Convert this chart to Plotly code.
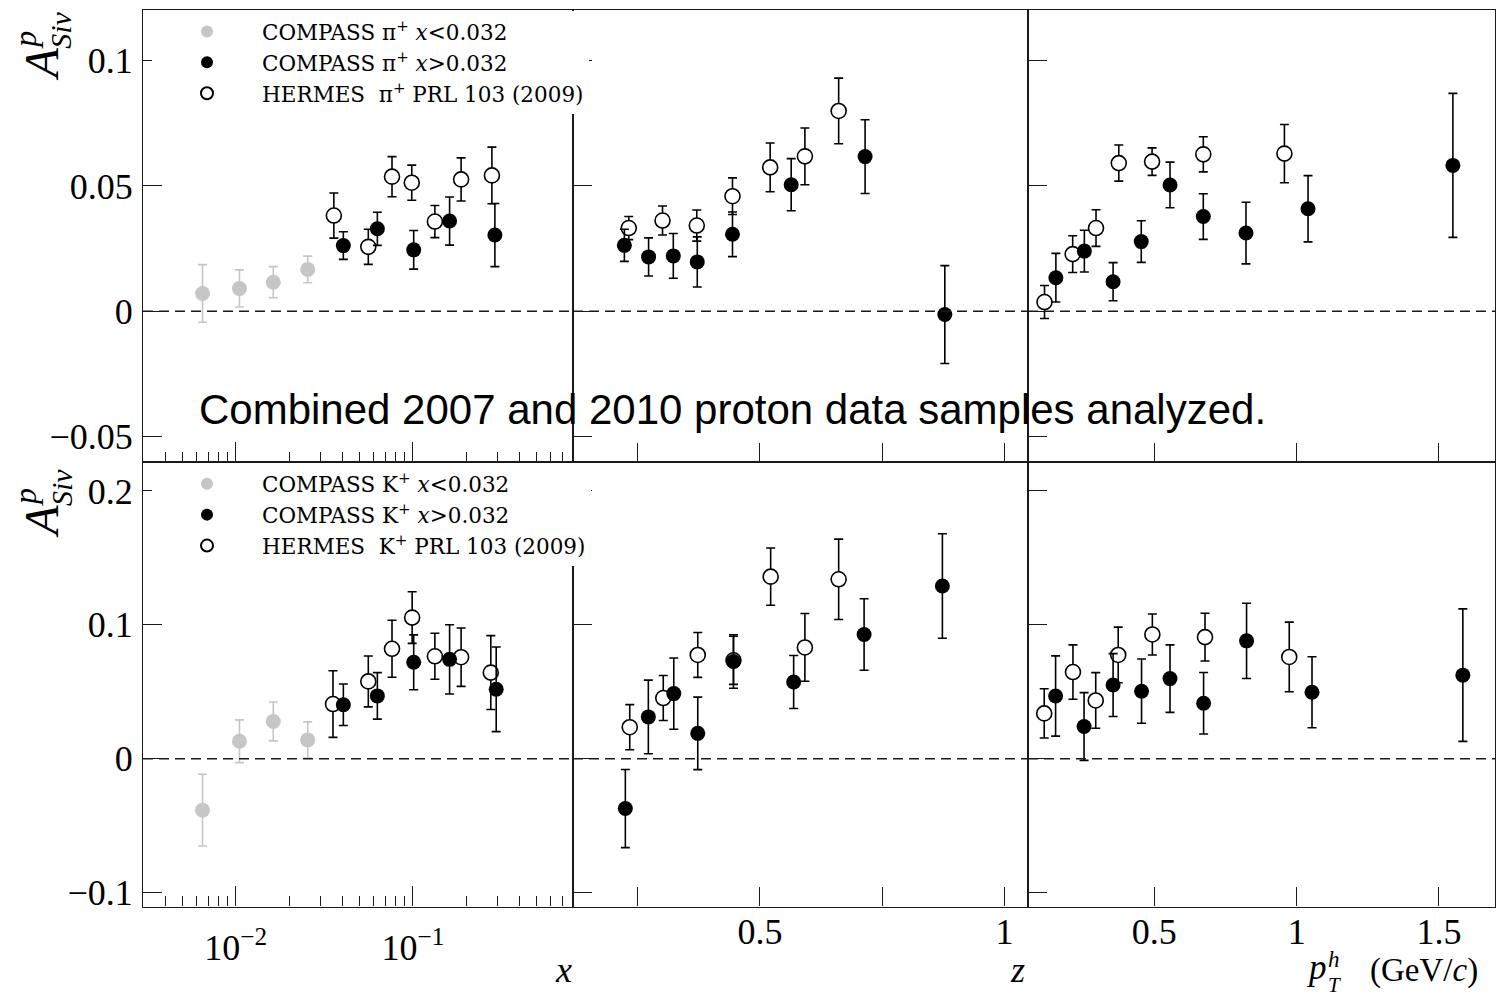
import plotly.graph_objects as go
import numpy as np

W, H = 1503, 1000
def px(x): return x / W
def py(y): return 1 - y / H

SERIF = "Liberation Serif"
SANS = "Liberation Sans"

# ---------------- data: pi+ ----------------
# vs x
pi_x_low_x = [0.0065, 0.0105, 0.0163, 0.0255]
pi_x_low_y = [0.0071, 0.0091, 0.0116, 0.0167]
pi_x_low_e = [0.0115, 0.0074, 0.0062, 0.0053]
pi_x_hi_x = [0.0405, 0.063, 0.101, 0.161, 0.29]
pi_x_hi_y = [0.0262, 0.0329, 0.0245, 0.036, 0.0304]
pi_x_hi_e = [0.0055, 0.0066, 0.0077, 0.0096, 0.0126]
pi_x_her_x = [0.0358, 0.056, 0.0762, 0.0985, 0.133, 0.187, 0.279]
pi_x_her_y = [0.0382, 0.0257, 0.0537, 0.0513, 0.0358, 0.0526, 0.0542]
pi_x_her_e = [0.009, 0.007, 0.008, 0.007, 0.0064, 0.0086, 0.0113]
# vs z
pi_z_hi_x = [0.223, 0.2725, 0.323, 0.372, 0.444, 0.564, 0.715, 0.878]
pi_z_hi_y = [0.0263, 0.0217, 0.0221, 0.0197, 0.0307, 0.0505, 0.0617, -0.0013]
pi_z_hi_e = [0.0064, 0.0076, 0.0089, 0.010, 0.0089, 0.0104, 0.0147, 0.0195]
pi_z_her_x = [0.232, 0.301, 0.371, 0.444, 0.521, 0.592, 0.661]
pi_z_her_y = [0.0332, 0.0362, 0.0342, 0.0459, 0.0574, 0.0618, 0.0799]
pi_z_her_e = [0.0046, 0.0058, 0.0062, 0.0073, 0.0097, 0.0113, 0.0131]
# vs pT
pi_pt_hi_x = [0.154, 0.254, 0.355, 0.454, 0.555, 0.672, 0.822, 1.04, 1.549]
pi_pt_hi_y = [0.0134, 0.024, 0.0118, 0.0278, 0.0504, 0.0378, 0.0312, 0.0409, 0.0582]
pi_pt_hi_e = [0.0097, 0.0083, 0.0076, 0.0083, 0.0091, 0.0091, 0.0123, 0.0132, 0.0287]
pi_pt_her_x = [0.114, 0.213, 0.295, 0.375, 0.492, 0.672, 0.957]
pi_pt_her_y = [0.0037, 0.0228, 0.0332, 0.0591, 0.0597, 0.0626, 0.0629]
pi_pt_her_e = [0.0066, 0.0073, 0.0073, 0.0072, 0.0055, 0.007, 0.0116]

# ---------------- data: K+ ----------------
k_x_low_x = [0.0065, 0.0105, 0.0163, 0.0255]
k_x_low_y = [-0.0385, 0.013, 0.0278, 0.014]
k_x_low_e = [0.0268, 0.016, 0.0145, 0.0135]
k_x_hi_x = [0.0405, 0.063, 0.101, 0.161, 0.295]
k_x_hi_y = [0.0403, 0.0469, 0.072, 0.0742, 0.0518]
k_x_hi_e = [0.0155, 0.0174, 0.0205, 0.0259, 0.0316]
k_x_her_x = [0.0354, 0.056, 0.0762, 0.099, 0.133, 0.187, 0.275]
k_x_her_y = [0.0408, 0.0577, 0.0821, 0.1054, 0.0765, 0.0758, 0.0643]
k_x_her_e = [0.0249, 0.019, 0.0213, 0.0193, 0.0172, 0.0218, 0.0276]

k_z_hi_x = [0.225, 0.272, 0.324, 0.373, 0.446, 0.569, 0.713, 0.873]
k_z_hi_y = [-0.0373, 0.0312, 0.0486, 0.0189, 0.0726, 0.0573, 0.0928, 0.129]
k_z_hi_e = [0.0292, 0.0275, 0.0266, 0.0271, 0.020, 0.0198, 0.0267, 0.039]
k_z_her_x = [0.234, 0.3025, 0.373, 0.446, 0.522, 0.592, 0.661]
k_z_her_y = [0.0235, 0.0453, 0.0775, 0.0735, 0.136, 0.0831, 0.134]
k_z_her_e = [0.0169, 0.0168, 0.0168, 0.018, 0.0214, 0.0253, 0.030]

k_pt_hi_x = [0.153, 0.253, 0.355, 0.455, 0.555, 0.673, 0.824, 1.054, 1.584]
k_pt_hi_y = [0.0468, 0.024, 0.055, 0.0504, 0.0598, 0.0414, 0.088, 0.0496, 0.0624]
k_pt_hi_e = [0.030, 0.0253, 0.0235, 0.024, 0.0252, 0.023, 0.0281, 0.0265, 0.0495]
k_pt_her_x = [0.113, 0.214, 0.294, 0.373, 0.493, 0.678, 0.974]
k_pt_her_y = [0.0338, 0.0647, 0.0435, 0.0775, 0.0928, 0.0908, 0.076]
k_pt_her_e = [0.0184, 0.0203, 0.0208, 0.0208, 0.0153, 0.0178, 0.026]

# legend labels
pi_labels = ["COMPASS \u03c0<sup>+</sup> <i>x</i>&lt;0.032",
             "COMPASS \u03c0<sup>+</sup> <i>x</i>&gt;0.032",
             "HERMES \u00a0\u03c0<sup>+</sup> PRL 103 (2009)"]
k_labels = ["COMPASS K<sup>+</sup> <i>x</i>&lt;0.032",
            "COMPASS K<sup>+</sup> <i>x</i>&gt;0.032",
            "HERMES \u00a0K<sup>+</sup> PRL 103 (2009)"]

GRAY = "#c6c6c6"
BLACK = "#000000"
MS = 15

fig = go.Figure()

def add(xs, ys, es, kind, xa, ya, name, legend, show):
    if kind == "low":
        marker = dict(color=GRAY, size=MS, symbol="circle")
        ecol = GRAY
        rank = 1
    elif kind == "hi":
        marker = dict(color=BLACK, size=MS, symbol="circle")
        ecol = BLACK
        rank = 2
    else:
        marker = dict(color="white", size=MS, symbol="circle",
                      line=dict(color=BLACK, width=1.6))
        ecol = BLACK
        rank = 3
    fig.add_trace(go.Scatter(
        x=xs, y=ys, mode="markers", marker=marker, name=name,
        error_y=dict(type="data", array=es, color=ecol, thickness=1.6, width=4.5),
        xaxis=xa, yaxis=ya, legend=legend, showlegend=show, legendrank=rank,
        hoverinfo="skip"))

# top row (pi+)
add(pi_x_low_x, pi_x_low_y, pi_x_low_e, "low", "x", "y", pi_labels[0], "legend", True)
add(pi_x_her_x, pi_x_her_y, pi_x_her_e, "her", "x", "y", pi_labels[2], "legend", True)
add(pi_x_hi_x, pi_x_hi_y, pi_x_hi_e, "hi", "x", "y", pi_labels[1], "legend", True)
add(pi_z_her_x, pi_z_her_y, pi_z_her_e, "her", "x2", "y2", pi_labels[2], "legend", False)
add(pi_z_hi_x, pi_z_hi_y, pi_z_hi_e, "hi", "x2", "y2", pi_labels[1], "legend", False)
add(pi_pt_her_x, pi_pt_her_y, pi_pt_her_e, "her", "x3", "y3", pi_labels[2], "legend", False)
add(pi_pt_hi_x, pi_pt_hi_y, pi_pt_hi_e, "hi", "x3", "y3", pi_labels[1], "legend", False)
# bottom row (K+)
add(k_x_low_x, k_x_low_y, k_x_low_e, "low", "x4", "y4", k_labels[0], "legend2", True)
add(k_x_her_x, k_x_her_y, k_x_her_e, "her", "x4", "y4", k_labels[2], "legend2", True)
add(k_x_hi_x, k_x_hi_y, k_x_hi_e, "hi", "x4", "y4", k_labels[1], "legend2", True)
add(k_z_her_x, k_z_her_y, k_z_her_e, "her", "x5", "y5", k_labels[2], "legend2", False)
add(k_z_hi_x, k_z_hi_y, k_z_hi_e, "hi", "x5", "y5", k_labels[1], "legend2", False)
add(k_pt_her_x, k_pt_her_y, k_pt_her_e, "her", "x6", "y6", k_labels[2], "legend2", False)
add(k_pt_hi_x, k_pt_hi_y, k_pt_hi_e, "hi", "x6", "y6", k_labels[1], "legend2", False)

# layout geometry (pixel edges)
XL = [143, 573, 1028, 1495]
YT = [10, 465, 912]
xd = [[px(XL[i]), px(XL[i + 1])] for i in range(3)]
yd_top = [py(YT[1]), py(YT[0])]
yd_bot = [py(YT[2]), py(YT[1])]

LINE = "#1a1a1a"
LW = 1.2
tickfont = dict(family=SERIF, size=36, color="black")

log_minor = [0.004, 0.005, 0.006, 0.007, 0.008, 0.009,
             0.02, 0.03, 0.04, 0.05, 0.06, 0.07, 0.08, 0.09,
             0.2, 0.3, 0.4, 0.5, 0.6, 0.7, 0.8]
x_ticks_log = [0.01, 0.1]
x_text_log = ["10<sup>\u22122</sup>", "10<sup>\u22121</sup>"]
z_ticks = [0.25, 0.5, 0.75, 1.0]
z_text = [" ", "0.5", " ", "1"]
pt_ticks = [0.5, 1.0, 1.5]
pt_text = ["0.5", "1", "1.5"]
y_top_ticks = [-0.05, 0, 0.05, 0.1]
y_top_text = ["\u22120.05", "0", "0.05", "0.1"]
y_bot_ticks = [-0.1, 0, 0.1, 0.2]
y_bot_text = ["\u22120.1", "0", "0.1", "0.2"]

common = dict(showline=True, linecolor=LINE, linewidth=LW, mirror=True,
              ticks="inside", tickcolor=LINE, tickwidth=LW,
              showgrid=False, zeroline=False, tickfont=tickfont)

def xaxis_cfg(col, row):
    anchor = ["y", "y2", "y3", "y4", "y5", "y6"][(row * 3) + col]
    showlab = row == 1
    if col == 0:
        d = dict(type="log", range=[np.log10(0.003), np.log10(0.8)],
                 tickvals=x_ticks_log, ticktext=x_text_log, ticklen=20,
                 ticklabelstandoff=9,
                 minor=dict(tickvals=log_minor, ticks="inside", ticklen=10,
                            tickcolor=LINE, tickwidth=LW))
    elif col == 1:
        d = dict(range=[0.118, 1.048], tickvals=z_ticks, ticktext=z_text, ticklen=19,
                 ticklabelstandoff=-7)
    else:
        d = dict(range=[0.056, 1.697], tickvals=pt_ticks, ticktext=pt_text, ticklen=19,
                 ticklabelstandoff=-7)
    d.update(common)
    d.update(domain=xd[col], anchor=anchor, showticklabels=showlab)
    return d

def yaxis_cfg(col, row):
    anchor = ["x", "x2", "x3", "x4", "x5", "x6"][(row * 3) + col]
    if row == 0:
        d = dict(range=[-0.0602, 0.1202], tickvals=y_top_ticks, ticktext=y_top_text,
                 domain=yd_top)
    else:
        d = dict(range=[-0.1105, 0.2215], tickvals=y_bot_ticks, ticktext=y_bot_text,
                 domain=yd_bot)
    d.update(common)
    d.update(anchor=anchor, ticklen=19, showticklabels=(col == 0),
             ticklabelstandoff=2)
    return d

names = ["", "2", "3", "4", "5", "6"]
lay = {}
for row in range(2):
    for col in range(3):
        n = names[row * 3 + col]
        lay["xaxis" + n] = xaxis_cfg(col, row)
        lay["yaxis" + n] = yaxis_cfg(col, row)

# dashed zero lines
shapes = []
for n in names:
    xr = "x" + n if n else "x"
    yr = "y" + n if n else "y"
    shapes.append(dict(type="line", xref=xr + " domain", x0=0, x1=1,
                       yref=yr, y0=0, y1=0,
                       line=dict(color=LINE, width=1.5, dash="10px,6px"),
                       layer="above"))

annotations = []
def ann(text, x, y, size, angle=0, family=SERIF, xanchor="center", yanchor="middle"):
    annotations.append(dict(text=text, x=px(x), y=py(y), xref="paper", yref="paper",
                            showarrow=False, textangle=angle, xanchor=xanchor,
                            yanchor=yanchor, font=dict(family=family, size=size, color="black")))

# y-axis titles A^p_Siv (rotated)
for dy in (0, 460):
    ann("<i>A</i>", 42, 65 + dy, 48, angle=-90)
    ann("<i>p</i>", 25, 40 + dy, 32, angle=-90)
    ann("<i>Siv</i>", 61, 30 + dy, 30, angle=-90)

# x-axis titles
ann("<i>x</i>", 563, 976, 36)
ann("<i>z</i>", 1017, 976, 36)
ann("<i>p</i>", 1316, 973, 35)
ann("<i>h</i>", 1334, 965, 23)
ann("<i>T</i>", 1334, 991, 21)
ann("(GeV/<i>c</i>)", 1424, 976, 33)

# overlay note
ann("Combined 2007 and 2010 proton data samples analyzed.", 732, 412, 42, family=SANS)

legend_common = dict(bgcolor="white", borderwidth=0,
                     font=dict(family="DejaVu Serif", size=21.5, color="black"),
                     xanchor="left", yanchor="top", itemwidth=100,
                     traceorder="normal", tracegroupgap=0, itemsizing="constant")
lay["legend"] = dict(x=px(152), y=py(11), **legend_common)
lay["legend2"] = dict(x=px(152), y=py(466), **legend_common)

fig.update_layout(width=W, height=H, margin=dict(l=0, r=0, t=0, b=0),
                  plot_bgcolor="white", paper_bgcolor="white",
                  shapes=shapes, annotations=annotations, **lay)

fig.write_html("out.html")
